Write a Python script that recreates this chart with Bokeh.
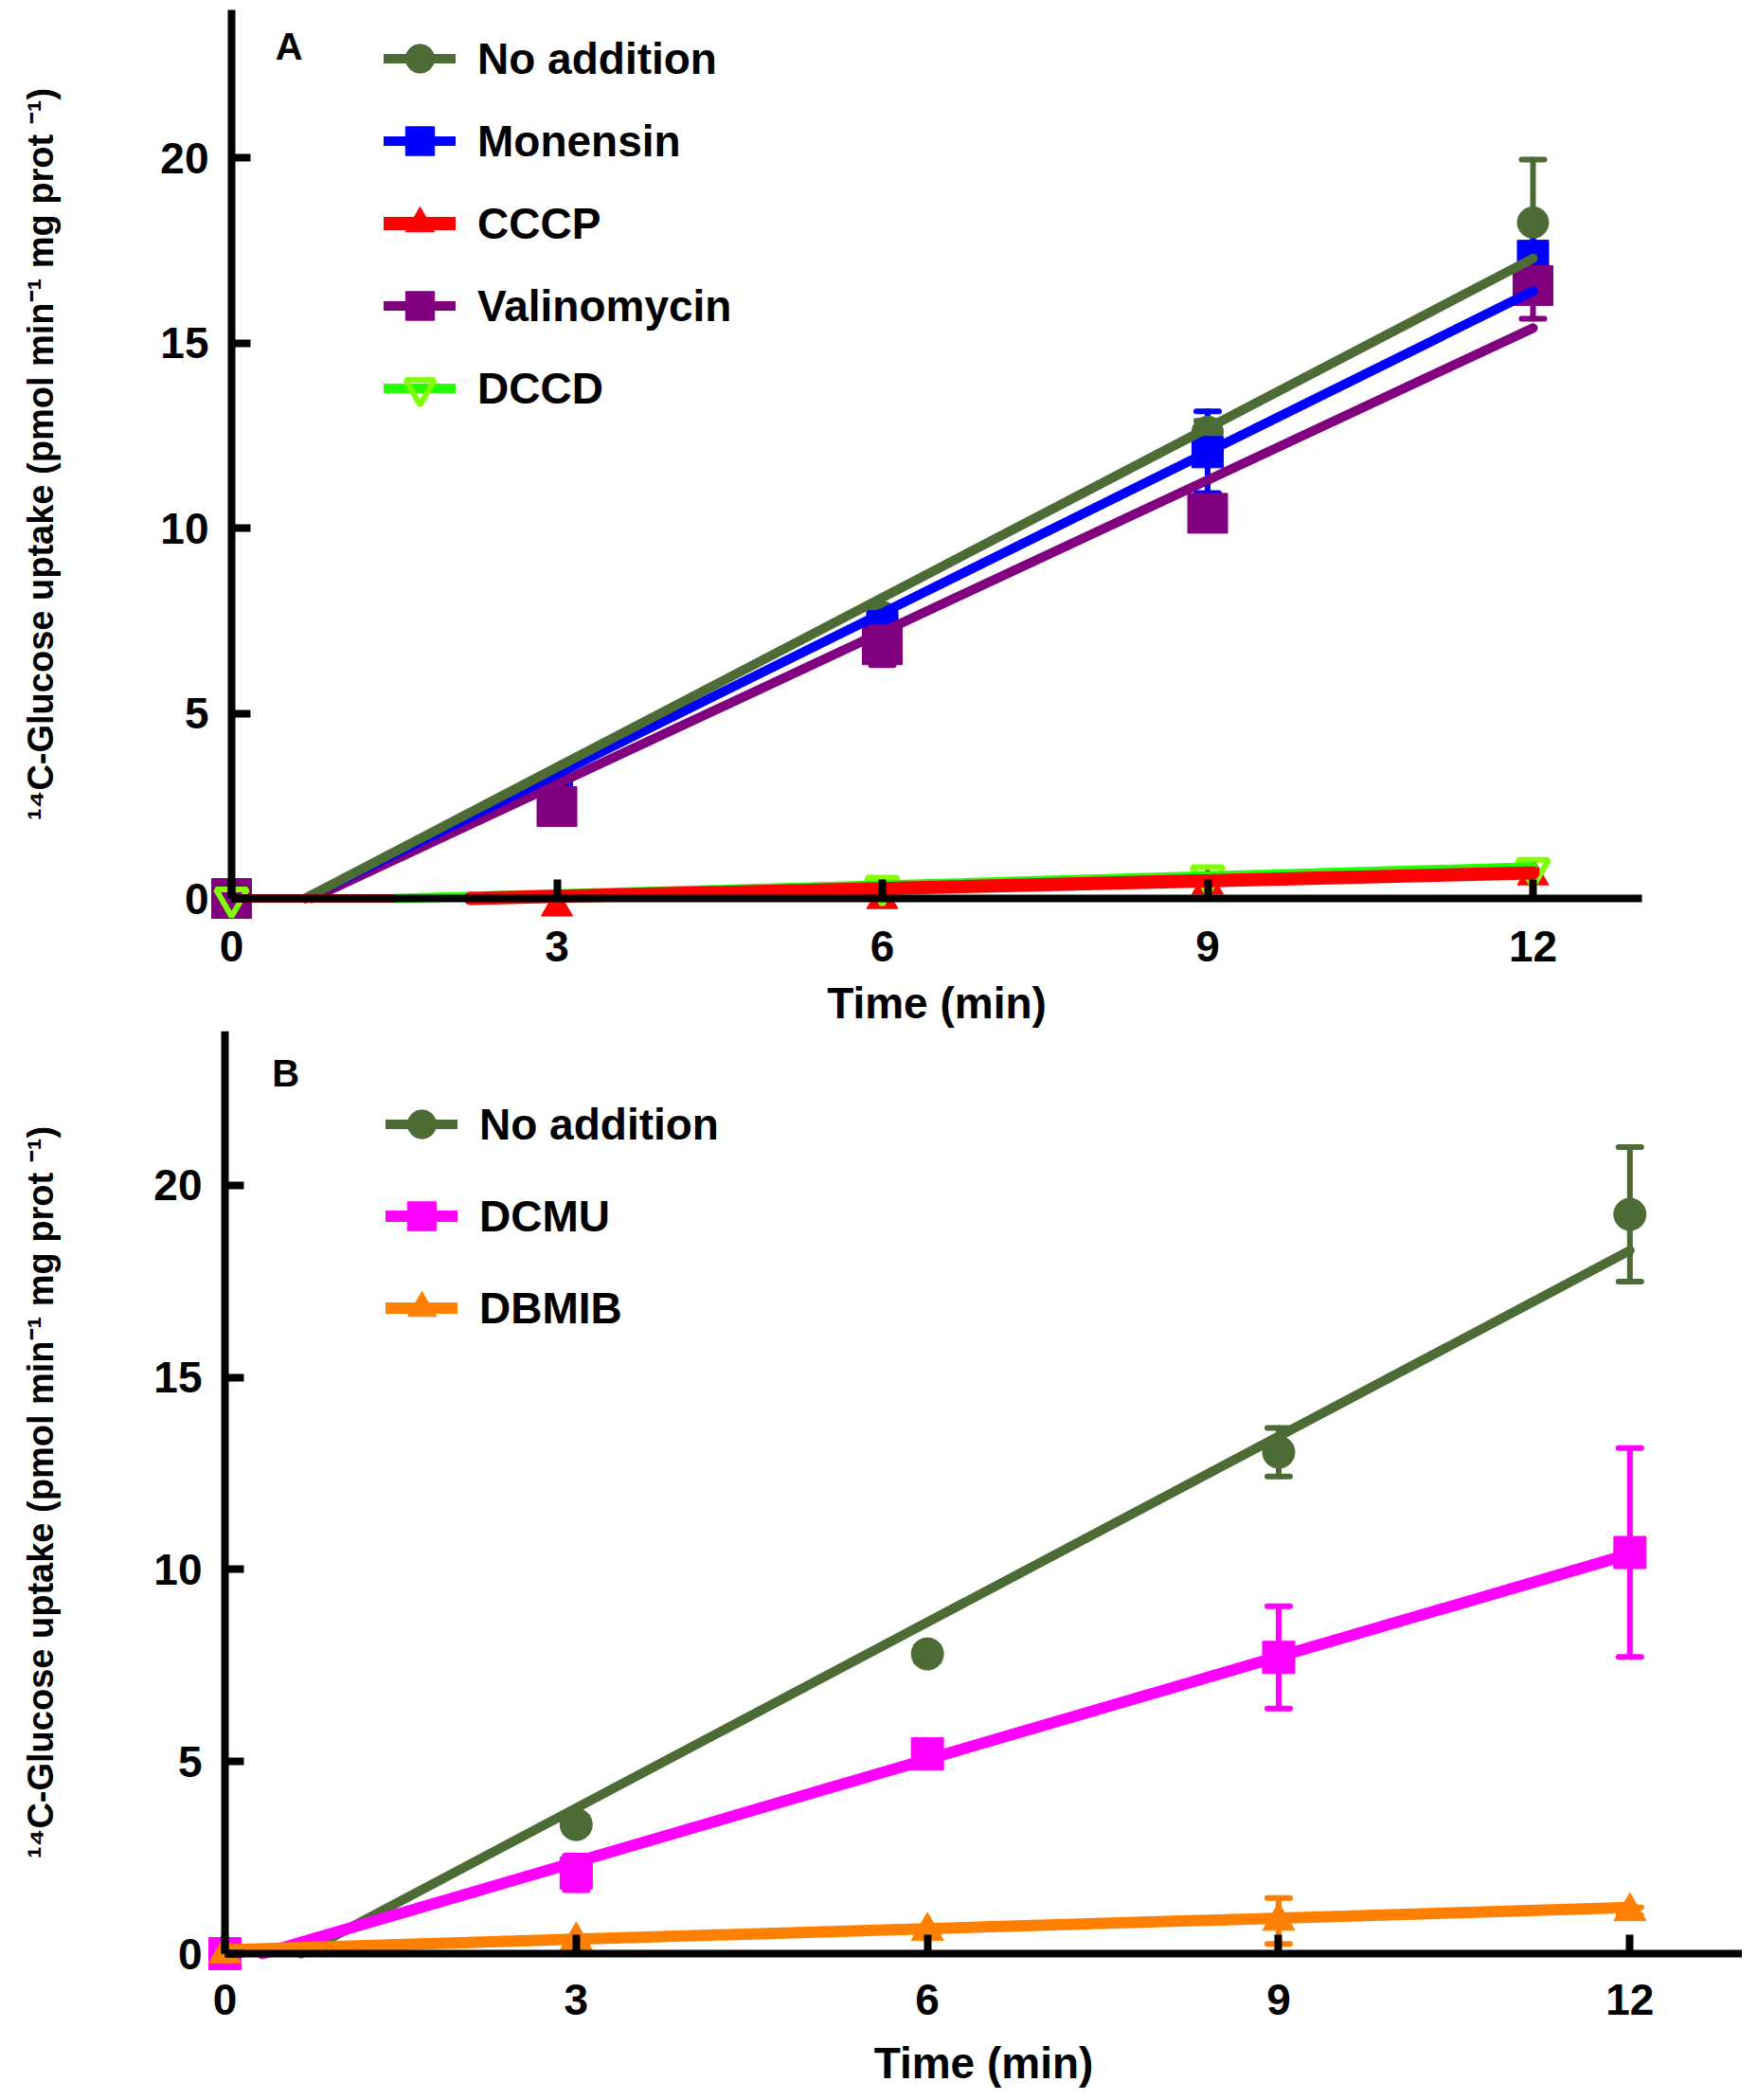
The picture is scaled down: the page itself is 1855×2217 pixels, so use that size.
from bokeh.plotting import figure
from bokeh.models import (Range1d, FixedTicker, Whisker, TeeHead, ColumnDataSource,
                          Legend, LegendItem, Label)
from bokeh.layouts import column
from bokeh.embed import file_html
from bokeh.resources import INLINE

NaN = float("nan")

# ---------------- data ----------------
time = [0, 3, 6, 9, 12]
x_ticks = [0, 3, 6, 9, 12]
y_ticks = [0, 5, 10, 15, 20]

# Panel A
a_no_addition = [0, 3.1, 7.6, 12.6, 18.25]
a_no_addition_err = [0, 0.2, 0.2, 0.3, 1.7]
a_monensin = [0, 2.9, 7.35, 12.05, 17.35]
a_monensin_err = [0, 0.2, 0.2, 1.1, 1.05]
a_cccp = [0, -0.23, -0.03, 0.36, 0.61]
a_valinomycin = [0, 2.48, 6.85, 10.4, 16.55]
a_valinomycin_err = [0, 0.2, 0.55, 0.3, 0.9]
a_dccd = [0, NaN, 0.32, 0.6, 0.8]

# fitted lines of panel A: start on the x axis at fit_x0, end at t = 12 with fit_y12
a_series = ["No addition", "Monensin", "CCCP", "Valinomycin", "DCCD"]
a_fit_x0 = [0.68, 0.68, 2.2, 0.74, 1.5]
a_fit_y12 = [17.28, 16.4, 0.69, 15.4, 0.85]
a_flat_x = [0.05, 1.5]          # red flat part along the axis
a_dccd_thin_x = [4.2, 12]
a_dccd_thin_y = [0.0, 0.62]

# Panel B
b_no_addition = [0, 3.36, 7.8, 13.05, 19.24]
b_no_addition_err = [0, 0.2, 0.2, 0.63, 1.75]
b_dcmu = [0, 2.1, 5.2, 7.71, 10.44]
b_dcmu_err = [0, 0.45, 0.2, 1.33, 2.72]
b_dbmib = [0, 0.34, 0.59, 0.85, 1.1]
b_dbmib_err = [0, 0.1, 0.1, 0.6, 0.1]

b_series = ["No addition", "DCMU", "DBMIB"]
b_fit_x0 = [0.65, 0.32, 0.0]
b_fit_y0 = [0.0, 0.0, 0.1]
b_fit_y12 = [18.3, 10.4, 1.2]

# ---------------- style ----------------
FONT = "Liberation Sans"
C_GREEN = "#4d6b35"
C_BLUE = "#0000ff"
C_RED = "#ff0000"
C_PURPLE = "#800080"
C_DCCD = "#7fff00"
C_DCCD_LINE = "#22ff00"
C_MAGENTA = "#ff00ff"
C_ORANGE = "#ff8000"


def make_fig(width, height, x_start, x_end, y_start, y_end, ylab_standoff, xlab_standoff,
             xtick_standoff):
    p = figure(width=width, height=height, x_range=Range1d(x_start, x_end),
               y_range=Range1d(y_start, y_end), output_backend="svg",
               toolbar_location=None, min_border_left=0, min_border_right=0,
               min_border_top=0, min_border_bottom=0)
    p.outline_line_color = None
    p.grid.visible = False
    for ax in (p.xaxis[0], p.yaxis[0]):
        ax.fixed_location = 0
        ax.axis_line_width = 8
        ax.axis_line_color = "black"
        ax.major_tick_line_width = 8
        ax.major_tick_line_color = "black"
        ax.major_tick_in = 20
        ax.major_tick_out = 0
        ax.minor_tick_line_color = None
        ax.major_label_text_font = FONT
        ax.major_label_text_font_style = "bold"
        ax.major_label_text_font_size = "46px"
        ax.major_label_text_color = "black"
        ax.axis_label_text_font = FONT
        ax.axis_label_text_font_style = "bold"
        ax.axis_label_text_color = "black"
    p.xaxis.bounds = (0, 13)
    p.yaxis.bounds = (0, 24)
    p.xaxis.ticker = FixedTicker(ticks=x_ticks)
    p.yaxis.ticker = FixedTicker(ticks=y_ticks)
    p.xaxis.major_label_standoff = xtick_standoff
    p.yaxis.major_label_standoff = 24
    p.xaxis.axis_label = "Time (min)"
    p.xaxis.axis_label_text_font_size = "46px"
    p.xaxis.axis_label_standoff = xlab_standoff
    p.yaxis.axis_label = "\u00b9\u2074C-Glucose uptake (pmol min\u207b\u00b9 mg prot \u207b\u00b9)"
    p.yaxis.axis_label_text_font_size = "38px"
    p.yaxis.axis_label_standoff = ylab_standoff
    return p


def add_whisker(p, y, err, color):
    src = ColumnDataSource(dict(x=time, upper=[v + e for v, e in zip(y, err)],
                                lower=[v - e for v, e in zip(y, err)]))
    w = Whisker(base="x", upper="upper", lower="lower", source=src, level="underlay",
                line_color=color, line_width=6, line_cap="round",
                upper_head=TeeHead(size=24, line_color=color, line_width=6, line_cap="round"),
                lower_head=TeeHead(size=24, line_color=color, line_width=6, line_cap="round"))
    p.add_layout(w)


def fit_line(p, i, x0s, y12s, color, width, y0s=None):
    y0 = 0.0 if y0s is None else y0s[i]
    return p.line([x0s[i], 12], [y0, y12s[i]], line_color=color, line_width=width,
                  line_cap="round")


def legend(items, loc, spacing):
    return Legend(items=items, location=loc, glyph_width=76, glyph_height=83,
                  label_height=46, spacing=spacing, label_standoff=23, padding=0, margin=0,
                  border_line_color=None, background_fill_alpha=0, label_text_font=FONT,
                  label_text_font_style="bold", label_text_font_size="46px",
                  label_text_color="black")


# ================= Panel A =================
pa = make_fig(1839, 1088, -2.131, 13.93, -3.58, 24.246, 102, 15, 34)

for y, e, c in [(a_no_addition, a_no_addition_err, C_GREEN),
                (a_monensin, a_monensin_err, C_BLUE),
                (a_valinomycin, a_valinomycin_err, C_PURPLE)]:
    add_whisker(pa, y, e, c)

sa_green = pa.scatter(time, a_no_addition, marker="circle", size=33, color=C_GREEN)
sa_blue = pa.scatter(time, a_monensin, marker="square", size=33, color=C_BLUE)
sa_red = pa.scatter(time, a_cccp, marker="triangle", size=33, color=C_RED)
sa_purple = pa.scatter(time, a_valinomycin, marker="square", size=42, color=C_PURPLE)
sa_dccd = pa.scatter(time, a_dccd, marker="inverted_triangle", size=33, fill_color="white",
                     fill_alpha=0, line_color=C_DCCD, line_width=6)

la_purple = fit_line(pa, 3, a_fit_x0, a_fit_y12, C_PURPLE, 10)
la_blue = fit_line(pa, 1, a_fit_x0, a_fit_y12, C_BLUE, 10)
la_green = fit_line(pa, 0, a_fit_x0, a_fit_y12, C_GREEN, 10)
pa.line(a_dccd_thin_x, a_dccd_thin_y, line_color=C_DCCD, line_width=4)
la_dccd = fit_line(pa, 4, a_fit_x0, a_fit_y12, C_DCCD_LINE, 10)
pa.line(a_flat_x, [0, 0], line_color=C_RED, line_width=9)
la_red = fit_line(pa, 2, a_fit_x0, a_fit_y12, C_RED, 14)

pa.add_layout(legend([
    LegendItem(label=a_series[0], renderers=[la_green, sa_green]),
    LegendItem(label=a_series[1], renderers=[la_blue, sa_blue]),
    LegendItem(label=a_series[2], renderers=[la_red, sa_red]),
    LegendItem(label=a_series[3], renderers=[la_purple, sa_purple]),
    LegendItem(label=a_series[4], renderers=[la_dccd, sa_dccd]),
], (405, 637), 4))
pa.add_layout(Label(x=0.53, y=23.0, text="A", text_font=FONT, text_font_style="bold",
                    text_font_size="40px", text_color="black",
                    text_align="center", text_baseline="middle"))

# ================= Panel B =================
pb = make_fig(1839, 1122, -1.917, 12.96, -3.648, 24.01, 95, 22, 32)

for y, e, c in [(b_no_addition, b_no_addition_err, C_GREEN),
                (b_dcmu, b_dcmu_err, C_MAGENTA),
                (b_dbmib, b_dbmib_err, C_ORANGE)]:
    add_whisker(pb, y, e, c)

sb_green = pb.scatter(time, b_no_addition, marker="circle", size=34, color=C_GREEN)
sb_mag = pb.scatter(time, b_dcmu, marker="square", size=34, color=C_MAGENTA)
sb_orange = pb.scatter(time, b_dbmib, marker="triangle", size=34, color=C_ORANGE)

lb_green = fit_line(pb, 0, b_fit_x0, b_fit_y12, C_GREEN, 10, b_fit_y0)
lb_mag = fit_line(pb, 1, b_fit_x0, b_fit_y12, C_MAGENTA, 12, b_fit_y0)
lb_orange = fit_line(pb, 2, b_fit_x0, b_fit_y12, C_ORANGE, 12, b_fit_y0)

pb.add_layout(legend([
    LegendItem(label=b_series[0], renderers=[lb_green, sb_green]),
    LegendItem(label=b_series[1], renderers=[lb_mag, sb_mag]),
    LegendItem(label=b_series[2], renderers=[lb_orange, sb_orange]),
], (407, 788), 14))
pb.add_layout(Label(x=0.52, y=22.92, text="B", text_font=FONT, text_font_style="bold",
                    text_font_size="40px", text_color="black",
                    text_align="center", text_baseline="middle"))

layout = column(pa, pb, spacing=0)
open("out.html", "w").write(file_html(layout, INLINE))
